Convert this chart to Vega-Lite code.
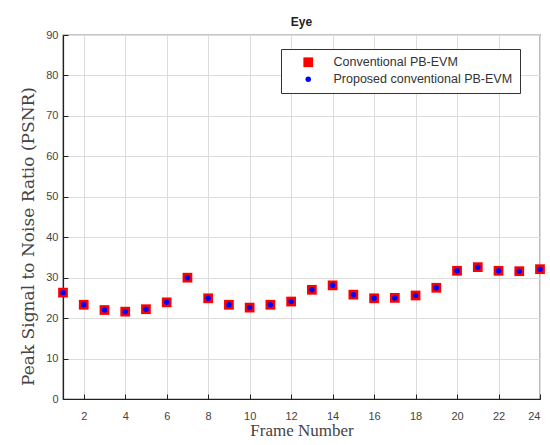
{
  "$schema": "https://vega.github.io/schema/vega-lite/v6.json",
  "autosize": {"type": "none"},
  "width": 477,
  "height": 364,
  "padding": {"left": 63, "top": 35, "right": 10, "bottom": 46},
  "background": "white",
  "title": {"text": "Eye", "font": "Liberation Sans", "fontSize": 12, "fontWeight": "bold", "color": "#222", "offset": 0},
  "data": {"values": [
    {"frame": 1, "Conventional PB-EVM": 26.3, "Proposed conventional PB-EVM": 26.3},
    {"frame": 2, "Conventional PB-EVM": 23.3, "Proposed conventional PB-EVM": 23.3},
    {"frame": 3, "Conventional PB-EVM": 22.0, "Proposed conventional PB-EVM": 22.0},
    {"frame": 4, "Conventional PB-EVM": 21.6, "Proposed conventional PB-EVM": 21.6},
    {"frame": 5, "Conventional PB-EVM": 22.2, "Proposed conventional PB-EVM": 22.2},
    {"frame": 6, "Conventional PB-EVM": 23.9, "Proposed conventional PB-EVM": 23.9},
    {"frame": 7, "Conventional PB-EVM": 30.0, "Proposed conventional PB-EVM": 30.0},
    {"frame": 8, "Conventional PB-EVM": 24.9, "Proposed conventional PB-EVM": 24.9},
    {"frame": 9, "Conventional PB-EVM": 23.3, "Proposed conventional PB-EVM": 23.3},
    {"frame": 10, "Conventional PB-EVM": 22.6, "Proposed conventional PB-EVM": 22.6},
    {"frame": 11, "Conventional PB-EVM": 23.3, "Proposed conventional PB-EVM": 23.3},
    {"frame": 12, "Conventional PB-EVM": 24.1, "Proposed conventional PB-EVM": 24.1},
    {"frame": 13, "Conventional PB-EVM": 27.0, "Proposed conventional PB-EVM": 27.0},
    {"frame": 14, "Conventional PB-EVM": 28.1, "Proposed conventional PB-EVM": 28.1},
    {"frame": 15, "Conventional PB-EVM": 25.8, "Proposed conventional PB-EVM": 25.8},
    {"frame": 16, "Conventional PB-EVM": 24.9, "Proposed conventional PB-EVM": 24.9},
    {"frame": 17, "Conventional PB-EVM": 25.0, "Proposed conventional PB-EVM": 25.0},
    {"frame": 18, "Conventional PB-EVM": 25.6, "Proposed conventional PB-EVM": 25.6},
    {"frame": 19, "Conventional PB-EVM": 27.5, "Proposed conventional PB-EVM": 27.5},
    {"frame": 20, "Conventional PB-EVM": 31.7, "Proposed conventional PB-EVM": 31.7},
    {"frame": 21, "Conventional PB-EVM": 32.6, "Proposed conventional PB-EVM": 32.6},
    {"frame": 22, "Conventional PB-EVM": 31.7, "Proposed conventional PB-EVM": 31.7},
    {"frame": 23, "Conventional PB-EVM": 31.6, "Proposed conventional PB-EVM": 31.6},
    {"frame": 24, "Conventional PB-EVM": 32.1, "Proposed conventional PB-EVM": 32.1}
  ]},
  "transform": [
    {"fold": ["Conventional PB-EVM", "Proposed conventional PB-EVM"], "as": ["series", "psnr"]}
  ],
  "mark": {"type": "point", "filled": true, "opacity": 1},
  "encoding": {
    "x": {
      "field": "frame", "type": "quantitative",
      "scale": {"domain": [1, 24], "nice": false, "zero": false},
      "axis": {"values": [2, 4, 6, 8, 10, 12, 14, 16, 18, 20, 22, 24], "title": "Frame Number", "grid": true, "labelPadding": 16, "titlePadding": 1, "titleFont": "Liberation Serif", "titleFontSize": 17}
    },
    "y": {
      "field": "psnr", "type": "quantitative",
      "scale": {"domain": [0, 90], "nice": false},
      "axis": {"values": [0, 10, 20, 30, 40, 50, 60, 70, 80, 90], "title": "Peak Signal to Noise Ratio (PSNR)", "grid": true, "titleFont": "DejaVu Serif", "titleFontSize": 17, "titleY": 201, "titlePadding": 8}
    },
    "color": {
      "field": "series", "type": "nominal",
      "scale": {"domain": ["Conventional PB-EVM", "Proposed conventional PB-EVM"], "range": ["#ff0000", "#0000ff"]},
      "legend": {"title": null}
    },
    "shape": {
      "field": "series", "type": "nominal",
      "scale": {"domain": ["Conventional PB-EVM", "Proposed conventional PB-EVM"], "range": ["square", "circle"]},
      "legend": {"title": null}
    },
    "size": {
      "field": "series", "type": "nominal",
      "scale": {"domain": ["Conventional PB-EVM", "Proposed conventional PB-EVM"], "range": [95, 30]},
      "legend": {"title": null}
    },
    "order": {"field": "series", "sort": "ascending"}
  },
  "config": {
    "view": {"stroke": "#222", "strokeWidth": 1.2},
    "axis": {
      "domainColor": "#222",
      "domainWidth": 1.2,
      "tickColor": "#222",
      "tickSize": -5,
      "labelFont": "Liberation Sans",
      "labelFontSize": 11,
      "labelColor": "#444",
      "labelPadding": 10,
      "titleFontWeight": "normal",
      "titleColor": "#444",
      "gridColor": "#dcdcdc",
      "gridWidth": 1
    },
    "legend": {
      "orient": "none",
      "legendX": 218,
      "legendY": 14,
      "fillColor": "white",
      "strokeColor": "#333",
      "padding": 7,
      "labelFont": "Liberation Sans",
      "labelFontSize": 12.5,
      "labelColor": "#333",
      "labelLimit": 300,
      "rowPadding": 4,
      "symbolOffset": 14,
      "labelOffset": 19,
      "offset": 0
    }
  }
}
